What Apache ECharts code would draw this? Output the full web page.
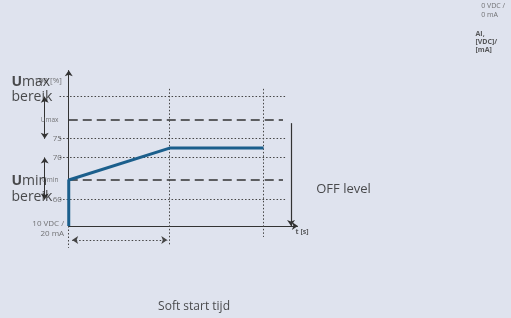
<!DOCTYPE html>
<html>
<head>
<meta charset="utf-8">
<script src="https://cdn.jsdelivr.net/npm/echarts@6/dist/echarts.min.js"></script>
<style>
  html, body { margin: 0; padding: 0; background: #dfe3ee; }
  #chart { width: 511px; height: 318px; }
</style>
</head>
<body>
<div id="chart"></div>
<script>
// levels on the (unscaled) signal axis, time in arbitrary units
const dottedLevels = [83, 56, 44, 17];
const dottedNames  = ['90', '75', '70', '60'];
const dashedLevels = [68, 29.5];
const dashedNames  = ['Umax', 'Umin'];
const timeMarks    = [4.4, 8.5];          // end soft start, end of plateau
const rampTime     = [0, 0, 4.4, 8.5];
const rampLevel    = [0, 29.5, 50, 50];
const offLevel     = 66;
const axisTop      = 100;
const axisEnd      = 10;

const dark = '#333';
const textGray = '#555';

const ec = echarts.init(document.getElementById('chart'));

const solid = (w) => ({ color: dark, width: w || 1, type: 'solid', opacity: 1 });
const dotted = { color: '#444', width: 1, type: [1.5, 2], opacity: 1 };

const lines = [];
// y axis and x axis with arrows
lines.push({ coords: [[0, 0], [0, axisTop]], symbol: ['none', 'arrow'], lineStyle: solid() });
lines.push({ coords: [[0, 0], [axisEnd, 0]], symbol: ['none', 'arrow'], lineStyle: solid() });
// dotted levels
dottedLevels.forEach(v => lines.push({ coords: [[-0.4, v], [9.5, v]], symbol: ['none', 'none'], lineStyle: dotted }));
// dashed Umax / Umin
dashedLevels.forEach(v => lines.push({ coords: [[0, v], [9.35, v]], symbol: ['none', 'none'], lineStyle: { color: dark, width: 1.6, type: [9, 5], opacity: 1 } }));
// vertical dotted time marks
lines.push({ coords: [[0, 0], [0, -14]], symbol: ['none', 'none'], lineStyle: dotted });
lines.push({ coords: [[timeMarks[0], 88], [timeMarks[0], -12]], symbol: ['none', 'none'], lineStyle: dotted });
lines.push({ coords: [[timeMarks[1], 88], [timeMarks[1], -7]], symbol: ['none', 'none'], lineStyle: dotted });
// soft start span arrow
lines.push({ coords: [[0.15, -9], [timeMarks[0] - 0.1, -9]], symbol: ['arrow', 'arrow'], lineStyle: dotted });
// bereik arrows
lines.push({ coords: [[-1.05, dottedLevels[0]], [-1.05, dottedLevels[1]]], symbol: ['arrow', 'arrow'], lineStyle: solid() });
lines.push({ coords: [[-1.05, dottedLevels[2]], [-1.05, dottedLevels[3]]], symbol: ['arrow', 'arrow'], lineStyle: solid() });
// OFF level arrow
lines.push({ coords: [[9.7, offLevel], [9.7, 0]], symbol: ['none', 'arrow'], lineStyle: solid(1.2) });

function textSeries(data, label) {
    return {
        type: 'scatter', symbolSize: 0, silent: true, z: 5,
        data: data,
        label: Object.assign({ show: true, formatter: p => p.value[2] }, label)
    };
}

const smallTicks = dottedNames.slice(1).map((n, i) => [-0.3, dottedLevels[i + 1], n]);
smallTicks.push([-0.3, 93.5, '100 [%]']);
const dashTicks = dashedNames.map((n, i) => [-0.45, dashedLevels[i], n]);

ec.setOption({
    backgroundColor: '#dfe3ee',
    animation: false,
    grid: { left: 0, right: 0, top: 0, bottom: 0 },
    xAxis: { type: 'value', min: -3, max: 19.3, show: false },
    yAxis: { type: 'value', min: -59, max: 145, show: false },
    series: [
        {
            type: 'lines', coordinateSystem: 'cartesian2d', polyline: false, silent: true,
            symbolSize: 6, data: lines, z: 2,
            itemStyle: { color: dark, opacity: 1 }
        },
        {
            type: 'line', data: rampTime.map((t, i) => [t, rampLevel[i]]),
            symbol: 'none', lineStyle: { color: '#1b5f8c', width: 3 }, z: 4
        },
        textSeries(smallTicks, { position: 'left', distance: 0, color: textGray, fontSize: 8, fontFamily: 'Open Sans' }),
        textSeries(dashTicks, { position: 'left', distance: 0, color: textGray, fontSize: 6.5, fontFamily: 'Open Sans' }),
        textSeries([[-0.2, -2, '10 VDC /\n20 mA']], { position: 'left', distance: 0, color: textGray, fontSize: 8, lineHeight: 10, fontFamily: 'Open Sans', align: 'right' }),
        textSeries([[9.9, -4, 't [s]']], { position: 'right', distance: 0, color: '#333', fontSize: 7, fontWeight: 'bold', fontFamily: 'Open Sans' }),
        textSeries([[-2.5, 92.5, 'Umax'], [-2.5, 83, 'bereik'], [-2.5, 29, 'Umin'], [-2.5, 18.5, 'bereik']], {
            position: 'right', distance: 0, color: '#222', fontSize: 14, fontFamily: 'Open Sans',
            formatter: p => p.value[2].charAt(0) === 'U' ? '{b|U}' + p.value[2].slice(1) : p.value[2],
            rich: { b: { fontWeight: 'bold', fontSize: 14, color: '#222', fontFamily: 'Open Sans' } }
        }),
        textSeries([[10.8, 23.5, 'OFF level']], { position: 'right', distance: 0, color: '#222', fontSize: 13, fontFamily: 'Open Sans' }),
        textSeries([[3.9, -51.5, 'Soft start tijd']], { position: 'right', distance: 0, color: '#222', fontSize: 12, fontFamily: 'Open Sans' }),
        textSeries([[18.0, 138, '0 VDC /\n0 mA']], { position: 'right', distance: 0, color: textGray, fontSize: 7, lineHeight: 9, fontFamily: 'Open Sans' }),
        textSeries([[17.75, 118, 'AI,\n[VDC]/\n[mA]']], { position: 'right', distance: 0, color: '#333', fontSize: 7, lineHeight: 8, fontWeight: 'bold', fontFamily: 'Open Sans' })
    ]
});
</script>
</body>
</html>
